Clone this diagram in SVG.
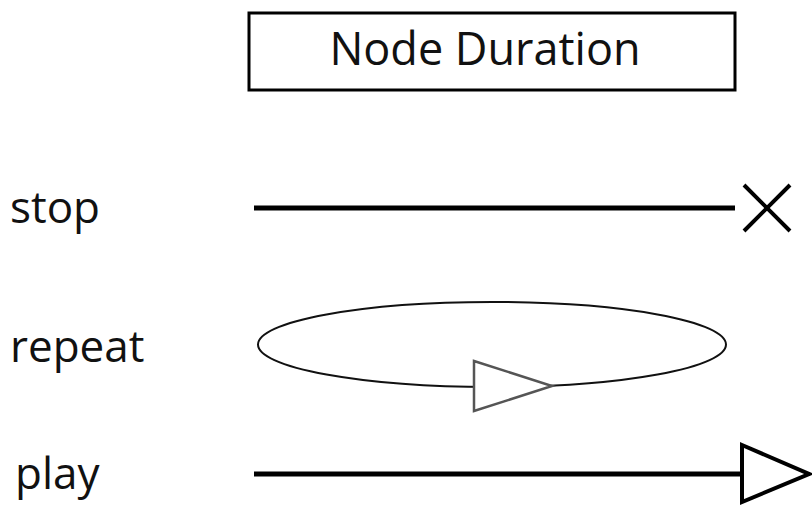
<svg xmlns="http://www.w3.org/2000/svg" width="812" height="505" viewBox="0 0 812 505">
  <style>
    .lbl { font-family: "Open Sans", "Noto Sans", sans-serif; font-size: 44px; fill: #111; }
    .title { font-family: "Open Sans", "Noto Sans", sans-serif; font-size: 45px; fill: #111; }
    .thick { stroke: #000; stroke-width: 5; fill: none; }
  </style>
  <rect width="812" height="505" fill="#fff"/>

  <!-- Title box -->
  <g id="title">
    <rect x="249" y="13" width="486" height="77" fill="#fff" stroke="#000" stroke-width="3"/>
    <text class="title" x="485" y="65" text-anchor="middle">Node Duration</text>
  </g>

  <!-- Row labels -->
  <g id="labels">
    <text class="lbl" x="10" y="223">stop</text>
    <text class="lbl" x="10" y="362">repeat</text>
    <text class="lbl" x="15" y="489">play</text>
  </g>

  <g id="connectors">
    <!-- stop: line ending in a cross -->
    <g id="stop">
      <line class="thick" x1="254" y1="208" x2="735" y2="208"/>
      <path d="M744 185 L790 231 M790 185 L744 231" stroke="#000" stroke-width="4" fill="none"/>
    </g>

    <!-- repeat: closed loop with an open arrowhead -->
    <g id="repeat">
      <ellipse cx="492" cy="344.5" rx="234" ry="42.5" fill="none" stroke="#111" stroke-width="2"/>
      <polygon points="474,361 552,386 474,411" fill="#fff" stroke="#555" stroke-width="2.5"/>
    </g>

    <!-- play: line ending in an open arrowhead -->
    <g id="play">
      <line class="thick" x1="254" y1="474" x2="740" y2="474"/>
      <polygon points="742,445 809,474 742,502" fill="#fff" stroke="#000" stroke-width="4"/>
    </g>
  </g>
</svg>
